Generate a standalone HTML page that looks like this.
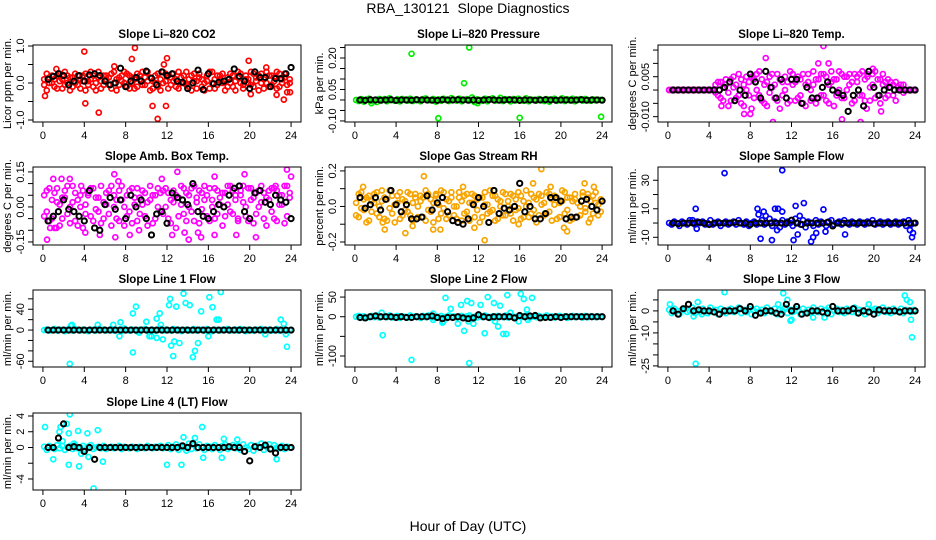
<!DOCTYPE html>
<html><head><meta charset="utf-8">
<style>
html,body{margin:0;padding:0;background:#fff;}
svg{display:block;font-family:"Liberation Sans",Arial,sans-serif;}
</style></head>
<body>
<svg id="chart" width="936" height="540" viewBox="0 0 936 540" xmlns="http://www.w3.org/2000/svg">
<rect width="936" height="540" fill="#fff"/>
<text x="468" y="13" font-size="14" text-anchor="middle">RBA_130121&#160;&#160;Slope Diagnostics</text>
<text x="468" y="531" font-size="14" text-anchor="middle">Hour of Day (UTC)</text>
</svg>
<script>
// ---- shared time categories (hours) ----
const tCol=[0.12,0.37,0.62,0.87,1.12,1.37,1.62,1.87,2.12,2.37,2.62,2.87,3.12,3.37,3.62,3.87,4.12,4.37,4.62,4.87,5.12,5.37,5.62,5.87,6.12,6.37,6.62,6.87,7.12,7.37,7.62,7.87,8.12,8.37,8.62,8.87,9.12,9.37,9.62,9.87,10.12,10.37,10.62,10.87,11.12,11.37,11.62,11.87,12.12,12.37,12.62,12.87,13.12,13.37,13.62,13.87,14.12,14.37,14.62,14.87,15.12,15.37,15.62,15.87,16.12,16.37,16.62,16.87,17.12,17.37,17.62,17.87,18.12,18.37,18.62,18.87,19.12,19.37,19.62,19.87,20.12,20.37,20.62,20.87,21.12,21.37,21.62,21.87,22.12,22.37,22.62,22.87,23.12,23.37,23.62,23.87];
const tBlk=[0.5,1,1.5,2,2.5,3,3.5,4,4.5,5,5.5,6,6.5,7,7.5,8,8.5,9,9.5,10,10.5,11,11.5,12,12.5,13,13.5,14,14.5,15,15.5,16,16.5,17,17.5,18,18.5,19,19.5,20,20.5,21,21.5,22,22.5,23,23.5,24];
const xTicks=[0,4,8,12,16,20,24];

// ---- Li-820 CO2 ----
const co2Col=[0.10,-0.20,0.15,0.00,-0.10,0.20,0.05,-0.15,0.30,0.00,0.15,-0.10,0.25,-0.05,0.10,0.20,-0.20,0.05,0.30,-0.10,0.00,0.15,-0.15,0.20,0.10,-0.05,0.25,0.00,-0.20,0.15,0.05,0.30,-0.10,0.20,0.00,-0.15,0.25,0.10,-0.05,0.15,0.30,-0.20,0.05,0.20,-0.10,0.10,0.00,0.25,-0.15,0.15,0.05,-0.10,0.30,0.00,0.20,-0.05,0.10,-0.20,0.25,0.05,0.15,-0.10,0.00,0.20,-0.15,0.30,0.10,-0.05,0.20,0.00,-0.20,0.15,0.25,-0.10,0.05,0.30,0.00,-0.15,0.20,0.10,-0.05,0.25,0.15,-0.20,0.00,0.10,0.30,-0.10,0.20,0.05,-0.15,0.25,0.00,0.15,-0.25,0.10];
const co2Col2=[-0.05,0.25,0.00,0.20,0.10,-0.15,0.25,0.10,-0.05,0.20,-0.20,0.15,0.00,0.20,-0.15,0.05,0.25,-0.05,0.10,0.20,-0.20,0.30,0.05,-0.05,0.20,0.15,-0.15,0.30,0.10,-0.05,0.20,0.00,0.25,-0.15,0.15,0.10,-0.10,0.20,0.30,-0.05,0.05,0.15,-0.15,0.00,0.25,-0.20,0.30,0.05,0.20,-0.05,0.25,0.10,-0.15,0.15,0.00,0.30,-0.10,0.20,0.05,-0.15,0.25,0.10,-0.20,0.05,0.30,0.00,-0.15,0.20,0.10,0.25,0.05,-0.10,0.00,0.20,-0.20,0.15,0.25,-0.05,0.10,0.00,0.30,-0.10,0.05,0.20,0.25,-0.15,0.00,0.20,-0.05,0.15,0.30,-0.10,0.10,0.25,-0.05,0.00];
const co2OutT=[0.2,1.3,4.0,4.1,5.4,6.9,8.6,8.9,10.6,11.1,11.7,12.0,11.9,19.9,20.1,21.6,22.6,23.3,23.9];
const co2OutV=[-0.35,0.38,0.85,-0.55,-0.80,0.45,0.65,0.95,-0.62,-0.97,0.50,0.67,-0.62,0.60,-0.30,0.42,-0.32,-0.45,-0.25];
const co2Blk=[0.10,0.18,0.25,0.20,-0.05,0.05,0.20,0.05,0.22,0.25,0.20,0.05,-0.05,0.00,0.40,-0.10,0.05,0.15,0.05,0.32,0.13,-0.05,0.30,0.20,0.25,0.05,0.02,-0.15,0.00,0.35,-0.18,0.25,-0.02,0.02,0.05,0.10,0.38,0.18,0.05,-0.15,0.30,0.15,0.15,-0.10,0.12,0.12,0.25,0.42];

// ---- Li-820 Pressure ----
const presCol=[0.000,-0.005,0.004,-0.008,0.002,0.006,-0.004,0.000,-0.010,0.005,-0.002,0.004,-0.006,0.008,0.000,-0.004,0.003,-0.007,0.005,0.000,-0.003,0.006,-0.005,0.002,0.000,-0.006,0.004,0.007,-0.002,0.000,0.005,-0.008,0.003,-0.004,0.006,0.000,-0.005,0.009,0.002,-0.003,0.006,-0.006,0.000,0.004,-0.002,0.012,-0.010,0.003,0.000,-0.004,0.006,-0.006,0.002,0.008,-0.003,0.000,0.010,-0.005,0.004,0.000,-0.007,0.005,-0.002,0.006,0.000,-0.004,0.008,-0.006,0.002,0.000,-0.003,0.005,0.000,-0.005,0.004,-0.008,0.002,0.006,-0.004,0.000,0.008,-0.005,0.003,-0.002,0.006,-0.006,0.000,0.004,-0.003,0.005,0.000,-0.004,0.003,-0.002,0.001,0.000];
const presOutT=[5.5,11.1,10.6,8.1,16.0,23.9,1.6,11.9];
const presOutV=[0.22,0.25,0.08,-0.087,-0.085,-0.08,-0.015,-0.015];
const presBlk=[0.000,-0.002,0.001,0.000,-0.001,0.000,0.001,-0.002,0.000,0.000,-0.001,0.001,0.000,0.000,-0.001,-0.002,0.001,0.000,0.000,0.001,0.000,-0.001,0.000,-0.002,0.000,0.001,0.000,-0.001,0.000,0.001,0.000,-0.002,0.000,0.000,-0.001,0.000,0.001,0.000,-0.001,0.000,0.000,-0.001,0.000,0.001,-0.001,0.000,0.000,-0.001];

// ---- Li-820 Temp ----
const tempCol=[0,0,0,0,0,0,0,0,0,0,0,0,0,0,0,0,0,0,0.002,-0.002,0.003,-0.004,0.002,-0.006,0.004,0.001,-0.003,0.006,-0.005,0.002,0.005,-0.002,-0.007,0.004,0.000,0.007,-0.004,0.002,-0.006,0.005,0.001,-0.003,0.006,-0.007,0.003,0.000,-0.005,0.007,0.002,-0.004,0.005,-0.002,0.006,-0.006,0.003,0.000,0.007,-0.005,0.004,-0.002,0.006,-0.004,0.002,0.007,-0.006,0.004,0.000,0.006,-0.003,0.005,0.002,-0.005,0.006,0.003,-0.002,0.007,-0.004,0.005,0.001,0.006,-0.003,0.004,-0.005,0.002,0.003,-0.002,0.001,0.002,-0.004,0.001,0,0.002,0,0,0,0];
const tempCol2=[0,0,0,0,0,0,0,0,0,0,0,0,0,0,0,0,0,0,-0.001,0.003,-0.003,0.001,0.004,-0.001,-0.004,0.005,0.002,-0.002,0.004,-0.006,0.000,0.003,0.005,-0.003,0.006,-0.002,0.004,-0.005,0.003,-0.001,0.006,0.002,-0.004,0.004,-0.002,0.005,0.003,-0.004,0.006,0.003,-0.003,0.004,-0.005,0.002,0.006,-0.004,0.002,0.004,-0.003,0.006,-0.002,0.005,-0.005,0.003,0.004,-0.002,0.007,-0.003,0.005,0.000,0.006,0.003,-0.004,0.005,0.006,-0.002,0.004,0.006,-0.004,0.002,0.007,-0.002,0.004,0.006,-0.003,0.004,0.003,-0.002,0.003,0.000,0.002,-0.001,0,0,0,0];
const tempOutT=[15.1,14.6,15.6,9.5,18.7,10.2,7.4,8.0,16.9,5.2,19.9,20.7,19.3];
const tempOutV=[0.0165,0.010,0.010,0.012,-0.012,-0.012,-0.009,-0.009,-0.011,-0.006,0.008,-0.008,-0.007];
const tempBlk=[0,0,0,0,0,0,0,0,0,0.000,0.001,0.003,-0.004,0.000,-0.002,0.006,0.003,-0.003,0.007,0.001,-0.003,0.004,-0.003,0.004,0.004,-0.005,0.001,-0.003,-0.003,0.001,0.003,0.000,-0.001,-0.002,-0.008,-0.002,0.000,-0.006,0.007,0.001,-0.002,0.000,0.001,0,0,0,0,0];

// ---- Amb. Box Temp ----
const ambCol=[0.05,-0.02,0.08,-0.05,0.06,0.02,-0.08,0.04,0.07,-0.03,0.00,0.09,-0.06,0.03,0.05,-0.09,0.01,0.06,-0.04,0.08,-0.01,0.04,-0.07,0.02,0.06,-0.03,0.09,0.00,-0.05,0.07,0.03,-0.08,0.05,-0.02,0.08,0.01,-0.06,0.04,0.07,-0.04,0.02,0.09,-0.07,0.05,0.00,0.06,-0.03,0.08,-0.05,0.03,0.07,-0.09,0.04,0.01,0.08,-0.06,0.05,-0.02,0.09,0.02,-0.07,0.06,0.03,-0.04,0.08,0.00,-0.05,0.07,0.04,-0.08,0.06,0.01,0.09,-0.03,0.05,-0.06,0.07,0.02,-0.04,0.08,0.03,-0.07,0.06,0.00,0.09,-0.05,0.04,0.07,-0.02,0.08,-0.06,0.05,0.01,0.09,-0.04,0.06];
const ambCol2=[-0.04,0.07,-0.06,0.03,-0.09,0.08,0.01,-0.05,0.04,0.09,-0.07,0.02,0.06,-0.08,0.00,0.07,-0.03,0.05,0.08,-0.06,0.04,-0.02,0.09,-0.05,0.01,0.07,-0.08,0.05,0.03,-0.06,0.09,0.00,-0.04,0.07,-0.07,0.04,0.08,-0.03,0.01,0.06,-0.08,0.03,0.05,-0.05,0.08,-0.02,0.07,0.00,0.06,-0.07,0.02,0.05,-0.04,0.09,-0.03,0.06,0.00,0.08,-0.06,0.04,0.07,-0.01,0.09,0.05,-0.06,0.03,0.08,-0.03,0.01,0.06,-0.04,0.09,-0.02,0.07,0.03,-0.05,0.05,0.09,0.00,-0.06,0.08,0.04,-0.03,0.07,0.02,0.06,-0.08,0.03,0.08,-0.05,0.07,0.01,0.05,-0.07,0.09,0.04];
const ambOutT=[0.4,1.0,1.8,2.6,3.7,4.1,5.5,6.9,7.0,7.3,8.4,9.3,11.5,13.0,12.5,13.7,14.1,15.0,15.3,16.6,16.6,18.7,19.5,20.6,22.5,23.6,24.0,0.7,1.3];
const ambOutV=[-0.14,0.12,0.12,0.12,0.09,-0.11,-0.12,0.14,-0.13,0.11,-0.12,-0.10,0.12,0.15,-0.12,-0.11,-0.14,-0.11,-0.13,0.13,-0.12,-0.12,0.14,-0.13,0.09,0.16,0.13,-0.09,-0.09];
const ambBlk=[-0.06,-0.04,-0.02,0.03,-0.01,-0.02,-0.04,-0.06,0.07,-0.09,-0.10,0.01,0.04,-0.01,0.03,-0.05,0.05,0.00,0.03,-0.05,-0.12,-0.03,-0.02,-0.07,0.06,0.04,0.03,0.01,0.10,-0.02,-0.04,-0.05,-0.02,0.01,0.00,0.05,0.08,0.09,-0.02,-0.05,0.06,0.07,0.02,0.01,0.05,0.03,0.02,-0.05];

// ---- Gas Stream RH ----
const rhCol=[0.02,-0.06,0.08,-0.02,0.05,-0.08,0.03,0.07,-0.04,0.00,0.09,-0.07,0.04,-0.01,0.06,-0.09,0.02,0.08,-0.05,0.03,-0.03,0.07,-0.08,0.05,0.00,0.06,-0.06,0.09,-0.02,0.04,-0.09,0.07,0.01,-0.04,0.08,-0.07,0.03,0.05,-0.05,0.00,0.08,-0.08,0.06,-0.03,0.02,0.07,-0.06,0.04,-0.09,0.05,0.01,-0.04,0.09,-0.02,0.06,-0.07,0.03,0.08,-0.05,0.00,0.07,-0.08,0.04,-0.01,0.06,-0.06,0.09,0.02,-0.04,0.05,-0.09,0.07,0.01,-0.05,0.08,-0.03,0.04,0.06,-0.07,0.02,0.09,-0.04,0.05,-0.08,0.03,0.07,-0.06,0.00,0.08,-0.03,0.05,-0.07,0.06,0.02,-0.05,0.04];
const rhCol2=[-0.05,0.07,-0.01,0.04,-0.09,0.06,-0.03,0.02,0.08,-0.06,0.03,0.05,-0.08,0.09,-0.04,0.01,0.06,-0.07,0.04,-0.02,0.08,-0.05,0.02,0.07,-0.06,0.03,0.05,-0.08,0.07,-0.03,0.02,0.06,-0.07,0.09,-0.01,0.04,-0.05,0.08,0.00,-0.07,0.05,0.03,-0.04,0.07,-0.08,0.02,0.06,-0.02,0.05,-0.06,0.08,0.01,-0.03,0.06,-0.08,0.04,0.00,-0.05,0.07,0.03,-0.04,0.06,-0.02,0.08,-0.07,0.03,0.00,-0.06,0.07,-0.02,0.04,-0.05,0.06,0.02,-0.04,0.07,-0.08,0.01,0.05,-0.06,0.03,0.08,-0.02,0.05,-0.07,0.04,0.02,-0.05,0.06,-0.01,0.07,0.03,-0.04,0.08,0.01,-0.03];
const rhOutT=[0.8,2.9,4.9,6.7,7.6,8.3,10.5,11.6,12.6,17.3,18.1,19.0,20.3,20.6,22.3,23.2,22.7,2.7,5.6,15.9];
const rhOutV=[0.11,-0.13,-0.15,0.17,-0.13,-0.13,0.11,-0.12,-0.19,0.13,0.21,0.11,-0.12,-0.14,0.13,0.11,-0.09,-0.09,-0.11,-0.10];
const rhBlk=[0.05,-0.01,0.01,0.05,-0.02,0.04,0.09,0.01,-0.03,0.01,-0.07,-0.07,-0.06,0.06,-0.02,0.02,0.05,-0.03,-0.08,-0.09,-0.10,-0.07,0.01,0.05,0.00,-0.09,0.09,-0.04,-0.01,-0.02,0.00,0.13,-0.03,0.00,-0.07,-0.07,-0.04,0.05,0.05,0.03,-0.07,-0.06,-0.06,0.03,0.04,0.00,-0.02,0.03];

// ---- Sample Flow ----
const flowCol=[0,-1,1,0,-2,1,0,-1,2,0,-1,1,0,1,-1,0,2,-1,0,1,-2,0,1,-1,0,1,-1,2,0,-1,1,-2,0,1,-1,0,2,-1,0,3,-2,1,0,-3,2,-1,1,0,-2,3,0,-1,2,-3,1,0,-2,2,-1,1,0,-2,1,2,-1,0,1,-1,2,0,-1,1,0,-1,1,0,-1,1,0,2,-1,0,1,-1,0,1,-1,0,1,-1,0,1,-2,2,-1,0];
const flowOutT=[5.5,11.1,2.7,2.8,8.7,8.8,9.3,9.5,10.4,10.7,11.1,12.4,13.2,15.1,9.0,10.1,12.2,13.9,14.1,12.6,17.2,23.7,23.8,14.4,15.3,10.6,12.8,23.5,2.4];
const flowOutV=[35,37,10,-4,10,6,8,5,10,10,8,12,14,9.5,-11,-12,-12,-13,-10,-8,-8,-10,-7,-7,-6,-5,5,-5,2];
const flowBlk=[0,-0.5,0,0,0,0.5,0,-1,0,0,0,0,0.5,0,0,-1,0,0,0,0,0,0,0,2,0,-1,0,0,0,0,0.5,-2,0,0,0,0,0,0,0,-0.5,0,0,0,0,0,0,0,0];

// ---- Line 1 Flow ----
const l1Col=[0,1,-1,0,2,-1,1,0,-2,1,0,-1,2,0,-1,1,0,-2,1,0,-1,2,0,1,-1,0,2,-1,0,1,-2,3,0,-1,1,0,-2,1,0,2,-1,0,1,-1,0,2,-1,1,0,-1,2,0,1,-2,0,1,-1,0,2,-1,1,0,-1,2,0,-2,1,0,-1,1,0,2,-1,0,1,-1,2,0,-2,1,0,-1,1,0,2,-1,0,1,-1,0,2,-1,0,1,-1,0];
const l1OutT=[2.6,8.7,8.7,9.0,10.0,11.0,11.3,12.2,12.3,12.4,12.6,12.7,12.9,13.2,13.6,13.8,14.2,14.5,14.7,15.0,15.3,16.0,16.1,16.4,16.8,17.2,17.0,23.0,23.6,10.3,11.6,7.4,7.5,2.7,2.8,5.3,6.8,9.3,10.5,11.0,11.4,21.5,23.3,23.5];
const l1OutV=[-65,-43,32,45,16,22,32,48,60,-30,-50,-22,45,-25,70,52,48,-52,-40,-25,36,-12,63,44,20,73,20,20,-32,-12,-18,-12,15,8,10,10,10,-5,-12,-15,10,-8,12,-8];
const l1Blk=[0,0,0,0,0,0,0,0,0,0,0,0,0,0,0,0,0,0,0,0,0,0,0,0,0,0,0,0,0,0,0,0,0,0,0,0,0,0,0,0,0,0,0,0,0,0,0,0];

// ---- Line 2 Flow ----
const l2Col=[0,2,-2,1,-3,0,2,-1,3,-2,0,1,-1,3,-2,0,2,-3,1,0,-2,3,-1,1,0,-3,2,-1,3,0,-2,1,-1,2,-3,0,3,-1,1,-2,0,2,-3,1,3,-1,0,-2,2,-1,3,0,-3,1,-2,2,0,-1,3,-2,1,0,-3,2,-1,1,3,-2,0,1,-1,2,-2,0,3,-1,1,-2,0,2,-1,1,-3,0,2,-1,1,0,-2,2,-1,1,0,-1,1,0];
const l2OutT=[2.7,5.5,8.8,11.1,10.6,9.3,10.3,10.9,11.3,12.2,12.6,12.9,13.5,13.9,14.1,14.4,14.7,14.8,16.1,16.4,17.2,16.7,10.0,11.5,8.5,2.6,7.6,7.6,8.6,11.0,13.6,15.9,15.1,16.8];
const l2OutV=[-47,-110,48,-118,-36,20,30,40,35,30,-42,50,35,-25,28,-44,-44,55,58,45,48,18,-18,-18,-15,10,8,-8,-12,-12,-12,-12,10,-8];
const l2Blk=[-2,-3,0,2,0,0,0,-2,0,-2,-2,0,0,0,2,-2,-5,-2,-2,0,-3,-5,-3,5,0,-2,0,0,0,0,-3,3,0,2,3,-3,-2,-2,0,-2,0,0,0,0,0,0,0,0];

// ---- Line 3 Flow ----
const l3Col=[0.5,-1,1,0,-1.5,0.5,1,-0.5,0,1.5,-1,0.5,-0.5,1,0,-1,1.5,-0.5,0.5,-1.5,1,0,-1,0.5,1,-0.5,0,1.5,-1,0.5,-0.5,1,-1.5,0,1,-0.5,0.5,-1,1.5,0,-0.5,1,-1.5,0.5,0,1.5,-1,0.5,-0.5,1,0,-1.5,1,-0.5,0.5,-1,1.5,0,-0.5,1,-1,0.5,1.5,-1.5,0,1,-0.5,0.5,-1,1,0,-0.5,1.5,-1,0.5,0,-1.5,1,-0.5,0.5,1,-1,0,1.5,-0.5,0.5,-1,1,0,-0.5,1,-1,0.5,0,-0.5,0.5];
const l3OutT=[2.7,5.5,11.2,11.6,23.0,23.2,23.5,23.6,23.7,0.2,2.9,12.0,14.1,15.2,19.5,2.5,11.9,10.7,3.3];
const l3OutV=[-24,8.5,8,5,7,5,4,-4,-12,3,4,-4,-3,-3,3,-2.5,-4.5,3,-1.5];
const l3Blk=[0,-1.5,1,3,0,0.5,0,0,-0.5,-1.5,0,0,0,1,0,2,-2,-1,0,0,-1,-1.5,3,0,2,-1.5,-1,0,0,-0.5,-1,2,0,0,0,1,-1,0,-0.5,-1.5,0.5,0,0,0,-0.5,0,0,0];

// ---- Line 4 (LT) Flow ----
const l4Col=[0.1,-0.3,0.2,0,-0.2,0.3,-0.1,0.2,-0.3,0,0.2,-0.2,0.3,-0.1,0,0.2,-0.3,0.1,0.3,-0.2,0,0.1,-0.1,0.2,-0.2,0,0.1,-0.1,0,0.2,-0.2,0.1,0,-0.1,0.1,0,-0.2,0.1,0,-0.1,0.2,0,-0.1,0.1,0,0.2,-0.1,0,0.3,-0.2,0.1,0.4,-0.3,0.2,0,-0.4,0.5,-0.2,0.3,-0.1,0.4,0,-0.3,0.2,0.1,-0.2,0.3,0,-0.3,0.2,0.4,-0.2,0,0.3,-0.1,0.2,-0.3,0.4,0,-0.2,0.3,-0.4,0.2,0,0.5,-0.3,0.1,0.4,-0.2,0.3,0,-0.1,0.2,-0.2,0.1,0];
const l4OutT=[0.2,1.0,1.7,1.6,2.3,2.5,2.6,2.5,3.4,3.5,4.3,5.3,4.9,5.8,12.0,13.4,13.6,14.7,15.4,15.5,17.3,17.5,18.8,22.6,3.9,4.4,3.0,1.9,3.7];
const l4OutV=[2.6,-1.5,2.6,2.0,3.0,1.8,4.2,-2.2,2.1,-2.4,1.8,2.2,-5.2,-1.8,-2.2,-2.2,1.3,1.2,2.6,-1.3,-1.3,1.1,1.0,-1.5,-0.5,-1.2,0.5,0.8,-0.8];
const l4Blk=[0,0,1.2,3.0,0,0.1,0,-0.5,0,-1.5,0,0,0,0,0,0,0,0,0,0,0,0,0,0,0,0,0.2,0,0.5,0,0,0,0,0,0,0.1,0,0,-0.5,-1.7,0.1,0,0.3,-0.2,-0.7,0,0,0];

// ---- panel layout (positions/styles only) ----
const C1=[33,301],C2=[345,612],C3=[658,925];
const R1=[45,122],R2=[167,245],R3=[290,367],R4=[413,490];
const panels=[
 {name:'co2',title:'Slope Li\u2013820 CO2',ylab:'Licor ppm per min.',xr:C1,yr:R1,lo:-1.054,hi:1.027,ticks:[-1,-0.5,0,0.5,1],labs:[[-1,'-1.0'],[0,'0.0'],[1,'1.0']],color:'#ff0000',cols:[co2Col,co2Col2],oT:co2OutT,oV:co2OutV,blk:co2Blk},
 {name:'pressure',title:'Slope Li\u2013820 Pressure',ylab:'kPa per min.',xr:C2,yr:R1,lo:-0.105,hi:0.262,ticks:[-0.1,-0.05,0,0.05,0.1,0.15,0.2,0.25],labs:[[-0.1,'-0.10'],[0.05,'0.05'],[0.2,'0.20']],color:'#00ee00',cols:[presCol],oT:presOutT,oV:presOutV,blk:presBlk},
 {name:'li820-temp',title:'Slope Li\u2013820 Temp.',ylab:'degrees C per min.',xr:C3,yr:R1,lo:-0.0120,hi:0.0169,ticks:[-0.01,-0.005,0,0.005,0.01,0.015],labs:[[-0.01,'-0.010'],[0.005,'0.005']],color:'#ff00ff',cols:[tempCol,tempCol2],oT:tempOutT,oV:tempOutV,blk:tempBlk},
 {name:'amb-box-temp',title:'Slope Amb. Box Temp.',ylab:'degrees C per min.',xr:C1,yr:R2,lo:-0.163,hi:0.171,ticks:[-0.15,-0.1,-0.05,0,0.05,0.1,0.15],labs:[[-0.15,'-0.15'],[0,'0.00'],[0.15,'0.15']],color:'#ff00ff',cols:[ambCol,ambCol2],oT:ambOutT,oV:ambOutV,blk:ambBlk},
 {name:'gas-stream-rh',title:'Slope Gas Stream RH',ylab:'percent per min.',xr:C2,yr:R2,lo:-0.217,hi:0.222,ticks:[-0.2,-0.1,0,0.1,0.2],labs:[[-0.2,'-0.2'],[0,'0.0'],[0.2,'0.2']],color:'#f7a400',cols:[rhCol,rhCol2],oT:rhOutT,oV:rhOutV,blk:rhBlk},
 {name:'sample-flow',title:'Slope Sample Flow',ylab:'ml/min per min.',xr:C3,yr:R2,lo:-15.4,hi:39.3,ticks:[-10,0,10,20,30],labs:[[-10,'-10'],[10,'10'],[30,'30']],color:'#0000ff',cols:[flowCol],oT:flowOutT,oV:flowOutV,blk:flowBlk},
 {name:'line1-flow',title:'Slope Line 1 Flow',ylab:'ml/min per min.',xr:C1,yr:R3,lo:-71,hi:77,ticks:[-60,-40,-20,0,20,40,60],labs:[[-60,'-60'],[0,'0'],[40,'40']],color:'#00ffff',cols:[l1Col],oT:l1OutT,oV:l1OutV,blk:l1Blk},
 {name:'line2-flow',title:'Slope Line 2 Flow',ylab:'ml/min per min.',xr:C2,yr:R3,lo:-128,hi:68,ticks:[-100,-50,0,50],labs:[[-100,'-100'],[0,'0'],[50,'50']],color:'#00ffff',cols:[l2Col],oT:l2OutT,oV:l2OutV,blk:l2Blk},
 {name:'line3-flow',title:'Slope Line 3 Flow',ylab:'ml/min per min.',xr:C3,yr:R3,lo:-25.5,hi:9.5,ticks:[-25,-20,-15,-10,-5,0,5],labs:[[-25,'-25'],[-10,'-10'],[0,'0']],color:'#00ffff',cols:[l3Col],oT:l3OutT,oV:l3OutV,blk:l3Blk},
 {name:'line4-flow',title:'Slope Line 4 (LT) Flow',ylab:'ml/min per min.',xr:C1,yr:R4,lo:-5.4,hi:4.38,ticks:[-4,-2,0,2,4],labs:[[-4,'-4'],[0,'0'],[2,'2'],[4,'4']],color:'#00ffff',cols:[l4Col],oT:l4OutT,oV:l4OutV,blk:l4Blk}
];

const NS='http://www.w3.org/2000/svg';
const svg=document.getElementById('chart');
function mk(tag,attrs,parent){const e=document.createElementNS(NS,tag);for(const k in attrs)e.setAttribute(k,attrs[k]);(parent||svg).appendChild(e);return e;}

panels.forEach(p=>{
  const g=mk('g',{});
  
  
  const [x0,x1]=p.xr,[y0,y1]=p.yr;
  const pad=(x1-x0)*0.04/1.08;
  const xs=t=>x0+pad+t/24*(x1-x0-2*pad);
  const ys=v=>y1-(v-p.lo)/(p.hi-p.lo)*(y1-y0);
  const tt=mk('text',{x:(x0+x1)/2,y:y0-7,'font-size':11.5,'font-weight':'bold','text-anchor':'middle'},g);
  tt.textContent=p.title;
  
  
  const yt=mk('text',{x:0,y:0,'font-size':11,'text-anchor':'middle',transform:`translate(${x0-22},${(y0+y1)/2}) rotate(-90)`},g);
  yt.textContent=p.ylab;
  
  
  p.ticks.forEach(v=>{
    const tk=mk('line',{x1:x0-5,x2:x0,y1:ys(v),y2:ys(v),stroke:'#000','stroke-width':1},g);
    
    
  });
  p.labs.forEach(l=>{
    const tl=mk('text',{x:0,y:0,'font-size':11,'text-anchor':'middle',transform:`translate(${x0-9},${ys(l[0])}) rotate(-90)`},g);
    tl.textContent=l[1];
    
    
  });
  xTicks.forEach(t=>{
    const tk=mk('line',{x1:xs(t),x2:xs(t),y1:y1,y2:y1+5,stroke:'#000','stroke-width':1},g);
    
    
    const tl=mk('text',{x:xs(t),y:y1+17,'font-size':11,'text-anchor':'middle'},g);
    tl.textContent=String(t);
    
    
  });
  const cid='clip-'+p.name;
  const cp=mk('clipPath',{id:cid},g);
  mk('rect',{x:x0,y:y0,width:x1-x0,height:y1-y0},cp);
  const pts=mk('g',{'clip-path':`url(#${cid})`},g);
  
  
  p.cols.forEach(arr=>{
    arr.forEach((v,i)=>{
      if(i>=tCol.length)return;
      const c=mk('circle',{cx:xs(tCol[i]),cy:ys(v),r:2.5,fill:'none',stroke:p.color,'stroke-width':1.7},pts);
      
      
    });
  });
  p.oT.forEach((t,i)=>{
    const c=mk('circle',{cx:xs(t),cy:ys(p.oV[i]),r:2.5,fill:'none',stroke:p.color,'stroke-width':1.7},pts);
    
    
  });
  p.blk.forEach((v,i)=>{
    const c=mk('circle',{cx:xs(tBlk[i]),cy:ys(v),r:2.6,fill:'none',stroke:'#000','stroke-width':2},pts);
    
    
  });
  const bx=mk('rect',{x:x0,y:y0,width:x1-x0,height:y1-y0,fill:'none',stroke:'#000','stroke-width':1},g);
  
  
});
</script>
</body></html>
